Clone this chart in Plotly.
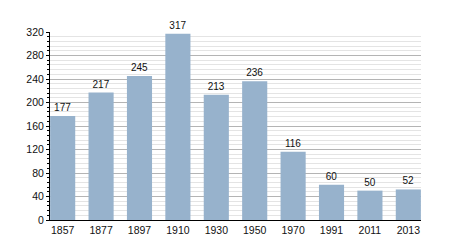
import plotly.graph_objects as go

years = ["1857", "1877", "1897", "1910", "1930", "1950", "1970", "1991", "2011", "2013"]
population = [177, 217, 245, 317, 213, 236, 116, 60, 50, 52]
y_ticks = [0, 40, 80, 120, 160, 200, 240, 280, 320]

fig = go.Figure(go.Bar(
    x=years, y=population,
    marker=dict(color="#97b2cc", line=dict(width=0)),
    text=[str(v) for v in population],
    textposition="outside",
    textfont=dict(family="Liberation Sans, Arial, sans-serif", size=10, color="#111"),
    cliponaxis=False,
))

fig.update_layout(
    width=450, height=250,
    margin=dict(l=50, r=29, t=32, b=30),
    paper_bgcolor="white", plot_bgcolor="white",
    bargap=0.346,
    showlegend=False,
    font=dict(family="Liberation Sans, Arial, sans-serif", size=10, color="#111"),
)
fig.update_xaxes(
    type="category",
    range=[-0.33, 9.33],
    showline=True, linecolor="black", linewidth=1,
    ticks="", showgrid=False,
    tickfont=dict(size=10.5),
)
fig.update_yaxes(
    range=[0, 320],
    tickvals=y_ticks,
    showline=True, linecolor="black", linewidth=1,
    ticks="outside", ticklen=3, tickcolor="black",
    showgrid=True, gridcolor="#b4b4b4", gridwidth=1,
    zeroline=False,
    minor=dict(dtick=8, showgrid=True, gridcolor="#e4e4e4", ticks="outside", ticklen=2, tickcolor="black"),
    tickfont=dict(size=10.5),
)

fig.write_html("out.html")
